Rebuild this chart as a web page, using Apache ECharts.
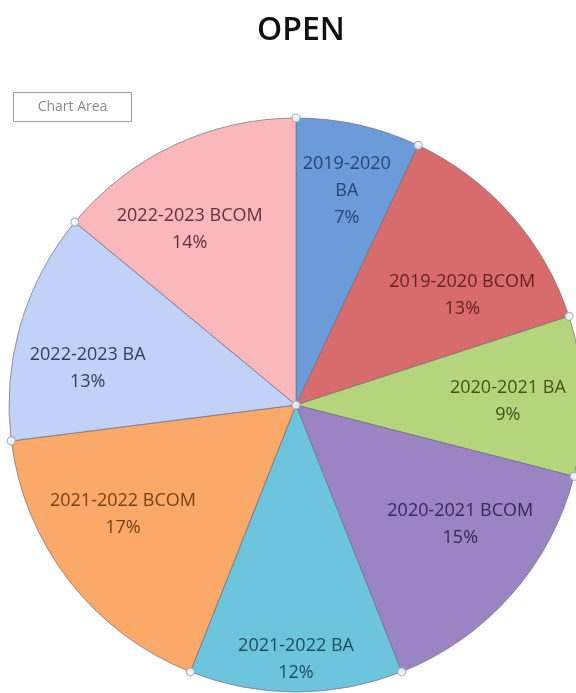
<!DOCTYPE html>
<html><head><meta charset="utf-8">
<script src="https://cdn.jsdelivr.net/npm/echarts@6/dist/echarts.min.js"></script>
<style>html,body{margin:0;padding:0;background:#fff}#c{width:576px;height:693px}</style>
</head><body><div id="c"></div>
<script>
const categories = ['2019-2020 BA','2019-2020 BCOM','2020-2021 BA','2020-2021 BCOM','2021-2022 BA','2021-2022 BCOM','2022-2023 BA','2022-2023 BCOM'];
const values = [7,13,9,15,12,17,13,14];
const sliceColors = ['#6b9bd8','#d86c6c','#b4d57b','#9b84c3','#6cc4dd','#fba968','#c2d1f8','#fab8bd'];
const labelColors = ['#2a4578','#662222','#43521a','#352a55','#1c4f5e','#774016','#323f63','#633236'];

const total = values.reduce((a,b)=>a+b,0);
const bounds = [];
let acc = 0;
values.forEach(v => { bounds.push([1, acc / total * 100]); acc += v; });
bounds.push([0, 0]);

const CX = 296, CY = 405, R = 287;
const FONT = '"Open Sans", "Liberation Sans", sans-serif';

// label nudges (Excel "best fit" placement), applied on top of the library layout
const labelNudge = [[3,0],[2,35],[-7,3],[0,-25],[0,35],[0,-25],[2,24],[-13,23]];

const chart = echarts.init(document.getElementById('c'), null, {renderer:'canvas'});
chart.setOption({
  animation: false,
  backgroundColor: '#fff',
  title: {
    text: 'OPEN', left: 296, top: 10, textAlign: 'center',
    textStyle: {fontFamily: FONT, fontSize: 32, fontWeight: 600, color: '#111'}
  },
  graphic: [{
    type: 'group', left: 13, top: 92,
    children: [
      {type: 'rect', shape: {x: 0, y: 0, width: 118, height: 29}, style: {fill: '#fff', stroke: '#9a9a9a', lineWidth: 1}},
      {type: 'text', x: 59, y: 15, style: {text: 'Chart Area', fill: '#8a8a8a', font: '14px ' + FONT, textAlign: 'center', textVerticalAlign: 'middle'}}
    ]
  }],
  polar: {center: [CX, CY], radius: R},
  angleAxis: {type: 'value', min: 0, max: 100, startAngle: 90, clockwise: true, show: false},
  radiusAxis: {type: 'value', min: 0, max: 1, show: false},
  series: [
    {
      type: 'pie', center: [CX, CY], radius: R, startAngle: 90, clockwise: true,
      silent: true, label: {show: false}, labelLine: {show: false},
      itemStyle: {borderColor: 'rgba(110,110,120,0.7)', borderWidth: 1},
      data: categories.map((n,i) => ({name: n, value: values[i], itemStyle: {color: sliceColors[i]}}))
    },
    {
      type: 'pie', center: [CX, CY], radius: [145, R], startAngle: 90, clockwise: true,
      silent: true, labelLine: {show: false},
      itemStyle: {color: 'rgba(0,0,0,0)', borderWidth: 0},
      label: {
        show: true, position: 'inside', fontFamily: FONT, fontSize: 18, lineHeight: 27,
        formatter: p => (p.name === '2019-2020 BA' ? p.name.replace(' ', '\n') : p.name) + '\n' + Math.round(p.percent) + '%'
      },
      data: categories.map((n,i) => ({name: n, value: values[i], label: {color: labelColors[i], offset: labelNudge[i]}}))
    },
    {
      type: 'scatter', coordinateSystem: 'polar', silent: true, symbol: 'circle', symbolSize: 8,
      itemStyle: {color: '#fff', borderColor: '#8ea4c4', borderWidth: 1.2},
      data: bounds, z: 10
    }
  ]
});
</script></body></html>
